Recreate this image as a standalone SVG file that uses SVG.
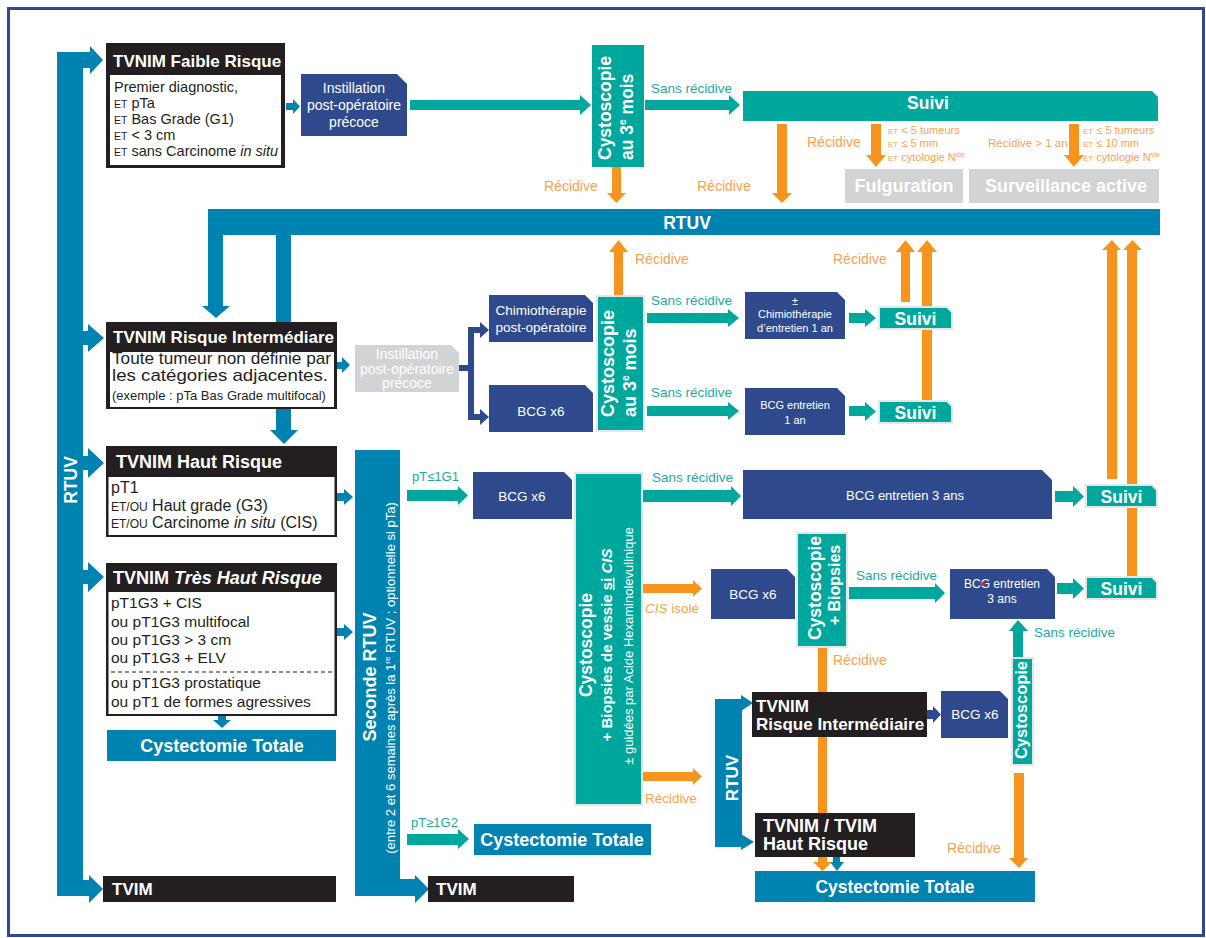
<svg xmlns="http://www.w3.org/2000/svg" width="1206" height="938" viewBox="0 0 1206 938">
<style>
text{font-family:"Liberation Sans",Arial,Helvetica,sans-serif}
.w{fill:#fff}
.k{fill:#231F20}
.b{font-weight:bold}
.blk{fill:#231F20}
.bl{fill:#0083B1}
.tl{fill:#00A79D}
.nv{fill:#2E4A8C}
.gr{fill:#D1D3D4}
.or{fill:#F7941E}
.ol{stroke:#E4E6E7;stroke-width:2}
.lo{fill:#F6A24E}
.lg{fill:#1DAA9C}
.c{text-anchor:middle}
</style>
<rect x="0" y="0" width="1206" height="938" fill="#fff"/>
<rect x="8.5" y="8.5" width="1195" height="927" fill="#fff" stroke="#2E4A8C" stroke-width="3"/>

<!-- bars -->
<g id="rtuv-left">
<path class="bl" d="M57,52 H90 V46 L103,60 L90,74 V68 H83 V880 H89 V875 L103,889 L89,903 V896 H57 Z"/>
<text class="w b c" font-size="17.5" transform="translate(77,480) rotate(-90)">RTUV</text>
</g>
<g id="rtuv-main">
<path class="bl" d="M208,209 H1160 V235 H291 V430 H298 L284,444 L270,430 H276 V235 H223 V306 H230 L216,318 L202,306 H208 Z"/>
<text class="w b c" x="687" y="229" font-size="17.5">RTUV</text>
</g>
<g id="seconde-rtuv">
<path class="bl" d="M355,450 H400 V879 H415 V875 L429,889 L415,903 V896 H355 Z"/>
<text class="w b c" font-size="18" transform="translate(376,677) rotate(-90)">Seconde RTUV</text>
<text class="w c" font-size="13" transform="translate(395,678) rotate(-90)">(entre 2 et 6 semaines après la 1<tspan font-size="8" dy="-5">re</tspan><tspan dy="5"> RTUV ; optionnelle si pTa)</tspan></text>
</g>
<g id="rtuv-small">
<rect class="bl" x="715" y="699" width="27" height="148"/>
<path class="bl" d="M741,695 L753,703 L741,711 Z M741,834 L754,842 L741,850 Z"/>
<text class="w b c" font-size="17" transform="translate(738,778) rotate(-90)">RTUV</text>
</g>

<!-- connectors -->
<g id="connectors">
<!-- blue left arrows -->
<path class="bl" d="M83,331 H88 V324 L104,338 L88,352 V345 H83 Z"/>
<path class="bl" d="M83,456 H88 V448 L104,463 L88,478 V470 H83 Z"/>
<path class="bl" d="M83,570 H88 V562 L104,577 L88,592 V584 H83 Z"/>
<path class="bl" d="M286,103 H293 V99 L300,106.5 L293,114 V110 H286 Z"/>
<path class="bl" d="M335,362 H342 V357 L350,365 L342,373 V369 H335 Z"/>
<path class="bl" d="M337,493 H344 V489 L353,497 L344,505 V501 H337 Z"/>
<path class="bl" d="M337,628 H344 V624 L353,632 L344,640 V636 H337 Z"/>
<path class="bl" d="M218,716 H226 V720 H231 L222,728 L213,720 H218 Z"/>
<path class="bl" d="M833,857 V862 H830 L837,871 L844,862 H840 V857 Z"/>
<!-- navy -->
<path d="M459,368 H471 M471,327 V420 M468,330 H481 M468,417 H481" stroke="#2E4A8C" stroke-width="6" fill="none"/>
<path class="nv" d="M480,322 L489,330 L480,338 Z M480,409 L489,417 L480,425 Z"/>
<path class="nv" d="M927,710 H933 V706 L941,714.5 L933,723 V719 H927 Z"/>
<!-- teal arrows -->
<path class="tl" d="M410,100 H580 V95 L591,105 L580,115 V110 H410 Z"/>
<path class="tl" d="M645,100 H729 V95 L740,105 L729,115 V110 H645 Z"/>
<path class="tl" d="M647,313 H728 V309 L739,318 L728,327 V323 H647 Z"/>
<path class="tl" d="M647,406 H728 V402 L739,411 L728,420 V416 H647 Z"/>
<path class="tl" d="M849,313 H865 V309 L876,318 L865,327 V323 H849 Z"/>
<path class="tl" d="M849,406 H865 V402 L876,411.5 L865,421 V416 H849 Z"/>
<path class="tl" d="M407,490 H458 V486 L468,495.5 L458,505 V501 H407 Z"/>
<path class="tl" d="M643,490 H731 V486 L741,496 L731,506 V502 H643 Z"/>
<path class="tl" d="M1055,491 H1073 V486 L1084,496.5 L1073,507 V502 H1055 Z"/>
<path class="tl" d="M849,587 H935 V583 L945,593 L935,603 V599 H849 Z"/>
<path class="tl" d="M1057,583 H1073 V578 L1084,588.5 L1073,599 V594 H1057 Z"/>
<path class="tl" d="M1013,658 V631 H1009 L1018,620 L1028,631 H1023 V658 Z"/>
<path class="tl" d="M407,834 H458 V829 L469,839 L458,849 V845 H407 Z"/>
<!-- orange arrows -->
<path class="or" d="M612,167 V193 H607 L616.5,203 L626,193 H621 V167 Z"/>
<path class="or" d="M777,124 V193 H772 L782,203 L792,193 H787 V124 Z"/>
<path class="or" d="M871,124 V155 H866 L876,167 L886,155 H881 V124 Z"/>
<path class="or" d="M1069,124 V155 H1064 L1074,167 L1084,155 H1079 V124 Z"/>
<path class="or" d="M614,296 V252 H609 L618.5,240 L628,252 H623 V296 Z"/>
<path class="or" d="M901,302 V252 H896 L905.5,240 L915,252 H910 V302 Z"/>
<path class="or" d="M922,401 V252 H917 L927,240 L937,252 H932 V401 Z"/>
<path class="or" d="M1107,479 V250 H1102 L1112,240 L1121,250 H1117 V479 Z"/>
<path class="or" d="M1127,577 V250 H1123 L1132.5,240 L1142,250 H1137 V577 Z"/>
<path class="or" d="M643,584 H693 V580 L702,588.5 L693,597 V593 H643 Z"/>
<path class="or" d="M643,772 H693 V768 L702,776.5 L693,785 V781 H643 Z"/>
<path class="or" d="M818,647 V862 H813 L822.5,871 L832,862 H827 V647 Z"/>
<path class="or" d="M1014,773 V858 H1009 L1019,868 L1028,858 H1024 V773 Z"/>
<!-- labels -->
<text class="lg" x="651" y="93" font-size="13.5">Sans récidive</text>
<text class="lo" x="544" y="191" font-size="14">Récidive</text>
<text class="lo" x="697" y="191" font-size="14">Récidive</text>
<text class="lo" x="807" y="147" font-size="14">Récidive</text>
<text class="lo" x="888" y="134" font-size="11"><tspan font-size="8">ET</tspan> &lt; 5 tumeurs</text>
<text class="lo" x="888" y="147" font-size="11"><tspan font-size="8">ET</tspan> ≤ 5 mm</text>
<text class="lo" x="888" y="161" font-size="11"><tspan font-size="8">ET</tspan> cytologie N<tspan font-size="7" dy="-4">sle</tspan></text>
<text class="lo" x="988" y="147" font-size="11.5">Récidive &gt; 1 an</text>
<text class="lo" x="1083" y="134" font-size="11"><tspan font-size="8">ET</tspan> ≤ 5 tumeurs</text>
<text class="lo" x="1083" y="147" font-size="11"><tspan font-size="8">ET</tspan> ≤ 10 mm</text>
<text class="lo" x="1083" y="161" font-size="11"><tspan font-size="8">ET</tspan> cytologie N<tspan font-size="7" dy="-4">sle</tspan></text>
<text class="lo" x="635" y="264" font-size="14">Récidive</text>
<text class="lo" x="833" y="264" font-size="14">Récidive</text>
<text class="lg" x="651" y="305" font-size="13.5">Sans récidive</text>
<text class="lg" x="651" y="397" font-size="13.5">Sans récidive</text>
<text class="lg" x="412" y="481" font-size="13">pT≤1G1</text>
<text class="lg" x="652" y="482" font-size="13.5">Sans récidive</text>
<text class="lo" x="645" y="613" font-size="13.5"><tspan font-style="italic">CIS</tspan> isolé</text>
<text class="lg" x="856" y="580" font-size="13.5">Sans récidive</text>
<text class="lg" x="1034" y="637" font-size="13.5">Sans récidive</text>
<text class="lo" x="833" y="665" font-size="14">Récidive</text>
<text class="lo" x="645" y="803" font-size="13.5">Récidive</text>
<text class="lo" x="947" y="853" font-size="14">Récidive</text>
<text class="lg" x="411" y="827" font-size="13">pT≥1G2</text>
</g>

<!-- nodes -->
<g id="faible-risque">
<rect class="blk" x="106" y="43" width="179" height="125"/>
<rect x="110" y="75" width="171" height="90" fill="#fff"/>
<text class="w b" x="113" y="67" font-size="17">TVNIM Faible Risque</text>
<g class="k" font-size="14.5">
<text x="114" y="92">Premier diagnostic,</text>
<text x="114" y="108"><tspan font-size="10.5">ET</tspan> pTa</text>
<text x="114" y="124"><tspan font-size="10.5">ET</tspan> Bas Grade (G1)</text>
<text x="114" y="140"><tspan font-size="10.5">ET</tspan> &lt; 3 cm</text>
<text x="114" y="156"><tspan font-size="10.5">ET</tspan> sans Carcinome <tspan font-style="italic">in situ</tspan></text>
</g>
</g>
<g id="instillation-1">
<path class="nv" d="M301,74 H397 L407,84 V136 H301 Z"/>
<g class="w c" font-size="14">
<text x="354" y="93">Instillation</text>
<text x="354" y="110">post-opératoire</text>
<text x="354" y="127">précoce</text>
</g>
</g>
<g id="cysto-top">
<rect class="tl" x="592" y="45" width="52" height="122"/>
<text class="w b" font-size="17.5" transform="translate(611,160) rotate(-90)">Cystoscopie</text>
<text class="w b" font-size="17.5" transform="translate(633,160) rotate(-90)">au 3<tspan font-size="10" dy="-7">e</tspan><tspan dy="7"> mois</tspan></text>
</g>
<g id="suivi-top">
<path class="tl" d="M743,91 H1152 L1158,97 V121 H743 Z"/>
<text class="w b c" x="928" y="109" font-size="17.5">Suivi</text>
</g>
<g id="fulguration">
<rect class="gr" x="845" y="169" width="118" height="34"/>
<text class="w b c" x="904" y="192" font-size="18">Fulguration</text>
</g>
<g id="surveillance">
<rect class="gr" x="969" y="169" width="190" height="34"/>
<text class="w b c" x="1066" y="192" font-size="18">Surveillance active</text>
</g>

<g id="risque-intermediaire">
<rect class="blk" x="106" y="322" width="231" height="87"/>
<rect x="110" y="352" width="224" height="55" fill="#fff"/>
<text class="w b" x="113" y="343" font-size="17">TVNIM Risque Intermédiare</text>
<text class="k" x="112" y="364" font-size="17" textLength="219" lengthAdjust="spacingAndGlyphs">Toute tumeur non définie par</text>
<text class="k" x="112" y="381" font-size="17" textLength="216" lengthAdjust="spacingAndGlyphs">les catégories adjacentes.</text>
<text class="k" x="112" y="400" font-size="13">(exemple : pTa Bas Grade multifocal)</text>
</g>
<g id="instillation-2">
<path class="gr" d="M355,345 H451 L459,353 V392 H355 Z"/>
<g class="w c" font-size="14">
<text x="407" y="359">Instillation</text>
<text x="407" y="373.5">post-opératoire</text>
<text x="407" y="388">précoce</text>
</g>
</g>
<g id="chimio-postop">
<path class="nv" d="M489,295 H585 L593,303 V342 H489 Z"/>
<text class="w c" x="541" y="315" font-size="13.5">Chimiothérapie</text>
<text class="w c" x="541" y="332" font-size="13.5">post-opératoire</text>
</g>
<g id="bcg-x6-a">
<path class="nv" d="M489,385 H585 L593,393 V432 H489 Z"/>
<text class="w c" x="541" y="416" font-size="13.5">BCG x6</text>
</g>
<g id="cysto-mid">
<rect class="tl ol" x="597" y="296" width="47" height="135"/>
<text class="w b" font-size="18" transform="translate(614,417) rotate(-90)">Cystoscopie</text>
<text class="w b" font-size="18" transform="translate(636,417) rotate(-90)">au 3<tspan font-size="10" dy="-7">e</tspan><tspan dy="7"> mois</tspan></text>
</g>
<g id="chimio-entretien">
<path class="nv" d="M745,292 H837 L845,300 V339 H745 Z"/>
<text class="w c" x="795" y="305" font-size="11">±</text>
<text class="w c" x="795" y="318" font-size="11">Chimiothérapie</text>
<text class="w c" x="795" y="332" font-size="11">d’entretien 1 an</text>
</g>
<g id="bcg-entretien-1an">
<path class="nv" d="M745,388 H837 L845,396 V435 H745 Z"/>
<text class="w c" x="795" y="409" font-size="11">BCG entretien</text>
<text class="w c" x="795" y="424" font-size="11">1 an</text>
</g>
<g id="suivi-mid-1">
<path class="tl ol" d="M879,307 H947 L952,312 V329 H879 Z"/>
<text class="w b c" x="915.5" y="324.5" font-size="17.5">Suivi</text>
</g>
<g id="suivi-mid-2">
<path class="tl ol" d="M879,401 H947 L952,406 V423 H879 Z"/>
<text class="w b c" x="915.5" y="418.5" font-size="17.5">Suivi</text>
</g>

<g id="haut-risque">
<rect class="blk" x="106" y="446" width="231" height="91"/>
<rect x="108.5" y="477" width="226" height="58" fill="#fff"/>
<text class="w b" x="116" y="468" font-size="18">TVNIM Haut Risque</text>
<g class="k" font-size="16">
<text x="111" y="493">pT1</text>
<text x="111" y="511"><tspan font-size="12">ET/OU</tspan> Haut grade (G3)</text>
<text x="111" y="528"><tspan font-size="12">ET/OU</tspan> Carcinome <tspan font-style="italic">in situ</tspan> (CIS)</text>
</g>
</g>
<g id="tres-haut-risque">
<rect class="blk" x="106" y="563" width="231" height="153"/>
<rect x="108.5" y="592" width="226" height="122" fill="#fff"/>
<text class="w b" x="113" y="584" font-size="18">TVNIM <tspan font-style="italic">Très Haut Risque</tspan></text>
<g class="k" font-size="15.5">
<text x="111" y="608">pT1G3 + CIS</text>
<text x="111" y="627">ou pT1G3 multifocal</text>
<text x="111" y="645">ou pT1G3 &gt; 3 cm</text>
<text x="111" y="663">ou pT1G3 + ELV</text>
<text x="111" y="688">ou pT1G3 prostatique</text>
<text x="111" y="707">ou pT1 de formes agressives</text>
</g>
<line x1="111" y1="672" x2="334" y2="672" stroke="#231F20" stroke-width="1" stroke-dasharray="4 3"/>
</g>
<g id="cystectomie-1">
<rect class="bl" x="107" y="730" width="229" height="31"/>
<text class="w b c" x="222" y="752" font-size="18">Cystectomie Totale</text>
</g>
<g id="tvim-1">
<rect class="blk" x="103" y="876" width="233" height="26"/>
<text class="w b" x="112" y="895" font-size="17">TVIM</text>
</g>
<g id="tvim-2">
<rect class="blk" x="428" y="876" width="146" height="26"/>
<text class="w b" x="436" y="895" font-size="17">TVIM</text>
</g>
<g id="bcg-x6-b">
<path class="nv" d="M473,472 H564 L572,480 V519 H473 Z"/>
<text class="w c" x="522" y="501" font-size="13.5">BCG x6</text>
</g>
<g id="cysto-biopsies">
<rect class="tl ol" x="575" y="473" width="67" height="332"/>
<text class="w b c" font-size="17.5" transform="translate(592,645) rotate(-90)">Cystoscopie</text>
<text class="w b c" font-size="15" transform="translate(612,645) rotate(-90)">+ Biopsies de vessie  <tspan text-decoration="underline">si</tspan> <tspan font-style="italic">CIS</tspan></text>
<text class="w c" font-size="13" transform="translate(633,646) rotate(-90)">± guidées par Acide Hexaminolevulinique</text>
</g>
<g id="bcg-entretien-3ans">
<path class="nv" d="M743,470 H1042 L1052,480 V519 H743 Z"/>
<text class="w c" x="905" y="500" font-size="13">BCG entretien 3 ans</text>
</g>
<g id="suivi-right-1">
<path class="tl ol" d="M1086,485 H1152 L1157,490 V507 H1086 Z"/>
<text class="w b c" x="1121.5" y="502.5" font-size="17.5">Suivi</text>
</g>
<g id="suivi-right-2">
<path class="tl ol" d="M1086,577 H1152 L1157,582 V599 H1086 Z"/>
<text class="w b c" x="1121.5" y="594.5" font-size="17.5">Suivi</text>
</g>
<g id="bcg-x6-c">
<path class="nv" d="M711,569 H787 L795,577 V619 H711 Z"/>
<text class="w c" x="753" y="599" font-size="13.5">BCG x6</text>
</g>
<g id="cysto-biopsies-2">
<rect class="tl ol" x="797" y="533" width="50" height="114"/>
<text class="w b c" font-size="17.5" transform="translate(821,588) rotate(-90)">Cystoscopie</text>
<text class="w b c" font-size="16" transform="translate(840,585) rotate(-90)">+ Biopsies</text>
</g>
<g id="bcg-entretien-3ans-b">
<path class="nv" d="M950,569 H1047 L1055,577 V619 H950 Z"/>
<text class="w c" x="1002" y="588" font-size="12">BCG entretien</text>
<text class="w c" x="1002" y="603" font-size="12">3 ans</text>
<circle cx="983" cy="584" r="2" fill="#E0202A"/>
</g>
<g id="cystectomie-2">
<rect class="bl" x="474" y="824" width="177" height="31"/>
<text class="w b c" x="562" y="846" font-size="18">Cystectomie Totale</text>
</g>
<g id="ri-lower">
<rect class="blk" x="752" y="692" width="175" height="45"/>
<text class="w b" x="756" y="712" font-size="17">TVNIM</text>
<text class="w b" x="756" y="730" font-size="17">Risque Intermédiaire</text>
</g>
<g id="bcg-x6-d">
<path class="nv" d="M941,691 H1000 L1008,699 V738 H941 Z"/>
<text class="w c" x="975" y="719" font-size="13.5">BCG x6</text>
</g>
<g id="cysto-lower">
<rect class="tl ol" x="1012" y="658" width="21" height="107"/>
<text class="w b c" font-size="16.5" transform="translate(1027,710) rotate(-90)">Cystoscopie</text>
</g>
<g id="haut-risque-lower">
<rect class="blk" x="755" y="813" width="160" height="44"/>
<text class="w b" x="763" y="832" font-size="18">TVNIM / TVIM</text>
<text class="w b" x="763" y="850" font-size="18">Haut Risque</text>
</g>
<g id="cystectomie-3">
<rect class="bl" x="755" y="871" width="280" height="31"/>
<text class="w b c" x="895" y="893" font-size="17.5">Cystectomie Totale</text>
</g>
</svg>
